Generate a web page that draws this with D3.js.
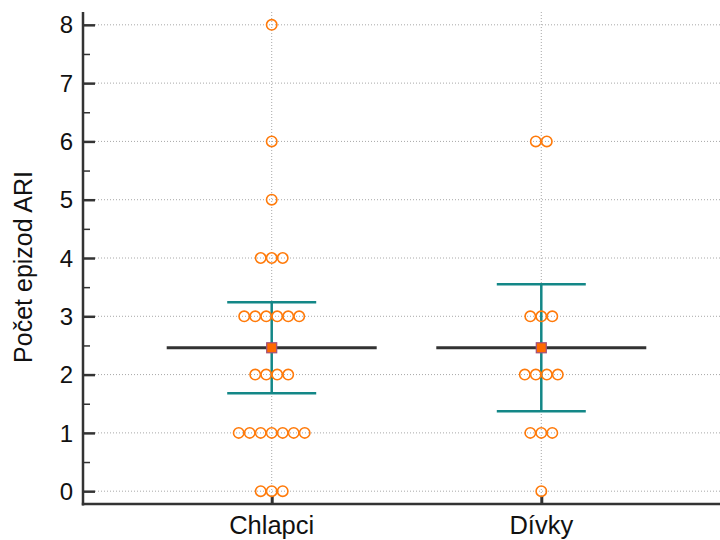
<!DOCTYPE html>
<html>
<head>
<meta charset="utf-8">
<script src="https://cdn.jsdelivr.net/npm/d3@7"></script>
<style>
  html, body { margin: 0; padding: 0; background: #fff; }
  svg text { font-family: "Liberation Sans", Arial, sans-serif; fill: #111; }
</style>
</head>
<body>
<svg id="chart" width="720" height="540"></svg>
<script>
// Episode counts per child, by group
const categories = ["Chlapci", "Dívky"];
const chlapci = [0,0,0,1,1,1,1,1,1,1,2,2,2,2,3,3,3,3,3,3,4,4,4,5,6,8];
const divky   = [0,1,1,1,2,2,2,2,3,3,3,6,6];
const groups  = [chlapci, divky];

// Group mean and 95% confidence interval
const means  = [2.46, 2.46];
const ciLow  = [1.68, 1.37];
const ciHigh = [3.24, 3.55];

const yTicks = [0, 1, 2, 3, 4, 5, 6, 7, 8];
const yMinor = [0.5, 1.5, 2.5, 3.5, 4.5, 5.5, 6.5, 7.5];
const yLabel = "Počet epizod ARI";

const svg = d3.select("#chart");
const plotLeft = 83, plotRight = 730, plotTop = 12, plotBottom = 504;

const x = d3.scalePoint().domain(categories).range([plotLeft, plotRight]).padding(0.7);
const y = d3.scaleLinear().domain([-0.22, 8.22]).range([plotBottom, plotTop]);

const orange = "#ff7a0a", teal = "#138787", dark = "#333";
const grid = svg.append("g");

// dotted grid
grid.selectAll("line.h").data(yTicks).join("line")
  .attr("x1", plotLeft + 12).attr("x2", 720)
  .attr("y1", d => y(d)).attr("y2", d => y(d))
  .attr("stroke", "#a8a8a8").attr("stroke-width", 1).attr("stroke-dasharray", "1,2");
grid.selectAll("line.v").data(categories).join("line")
  .attr("x1", d => x(d)).attr("x2", d => x(d))
  .attr("y1", plotTop).attr("y2", plotBottom - 8)
  .attr("stroke", "#a8a8a8").attr("stroke-width", 1).attr("stroke-dasharray", "1,2");

// axes
const yAxis = svg.append("g").attr("transform", `translate(${plotLeft},0)`)
  .call(d3.axisRight(y).tickValues(yTicks).tickSize(12).tickFormat(""));
yAxis.select(".domain").remove();
yAxis.selectAll(".tick line").attr("stroke", dark).attr("stroke-width", 2.5);
svg.append("g").attr("transform", `translate(${plotLeft},0)`)
  .call(d3.axisRight(y).tickValues(yMinor).tickSize(7).tickFormat(""))
  .call(g => g.select(".domain").remove())
  .selectAll(".tick line").attr("stroke", dark).attr("stroke-width", 1.5);

svg.selectAll("text.ytick").data(yTicks).join("text")
  .attr("class", "ytick")
  .attr("x", plotLeft - 10).attr("y", d => y(d)).attr("dy", "0.36em")
  .attr("text-anchor", "end").attr("font-size", 24).text(d => d);

const xAxis = svg.append("g").attr("transform", `translate(0,${plotBottom})`)
  .call(d3.axisTop(x).tickSize(8).tickFormat(""));
xAxis.select(".domain").remove();
xAxis.selectAll(".tick line").attr("stroke", dark).attr("stroke-width", 3);

svg.selectAll("text.xtick").data(categories).join("text")
  .attr("class", "xtick")
  .attr("x", d => x(d)).attr("y", 534)
  .attr("text-anchor", "middle").attr("font-size", 25.5).text(d => d);

svg.append("line").attr("x1", plotLeft).attr("x2", plotLeft).attr("y1", plotTop).attr("y2", plotBottom + 1.5)
  .attr("stroke", dark).attr("stroke-width", 2.5);
svg.append("line").attr("x1", plotLeft - 1.2).attr("x2", 720).attr("y1", plotBottom).attr("y2", plotBottom)
  .attr("stroke", dark).attr("stroke-width", 2.5);

svg.append("text")
  .attr("transform", `translate(32,267) rotate(-90)`)
  .attr("text-anchor", "middle").attr("font-size", 25).text(yLabel);

// individual observations, spread side by side at each value
const spacing = 11;
const dots = [];
groups.forEach((vals, gi) => {
  d3.rollups(vals, v => v.length, v => v).forEach(([val, n]) => {
    for (let i = 0; i < n; i++) {
      dots.push({ cat: categories[gi], val, off: (i - (n - 1) / 2) * spacing });
    }
  });
});

// mean lines
svg.selectAll("line.mean").data(categories).join("line")
  .attr("x1", d => x(d) - 105).attr("x2", d => x(d) + 105)
  .attr("y1", (d, i) => y(means[i])).attr("y2", (d, i) => y(means[i]))
  .attr("stroke", dark).attr("stroke-width", 3);

// confidence interval bars
const ci = svg.append("g");
categories.forEach((c, i) => {
  ci.append("line").attr("x1", x(c)).attr("x2", x(c))
    .attr("y1", y(ciLow[i])).attr("y2", y(ciHigh[i]))
    .attr("stroke", teal).attr("stroke-width", 2.5);
  [ciLow[i], ciHigh[i]].forEach(v => {
    ci.append("line").attr("x1", x(c) - 44.5).attr("x2", x(c) + 44.5)
      .attr("y1", y(v)).attr("y2", y(v))
      .attr("stroke", teal).attr("stroke-width", 2.5);
  });
});

svg.selectAll("circle.obs").data(dots).join("circle")
  .attr("cx", d => x(d.cat) + d.off).attr("cy", d => y(d.val)).attr("r", 5.2)
  .attr("fill", "#fff").attr("fill-opacity", 0).attr("stroke", orange).attr("stroke-width", 1.6);

// mean markers
svg.selectAll("rect.mean").data(categories).join("rect")
  .attr("x", d => x(d) - 5).attr("y", (d, i) => y(means[i]) - 5)
  .attr("width", 10).attr("height", 10)
  .attr("fill", "#ff6a00").attr("stroke", "#a0507a").attr("stroke-width", 1.2);
</script>
</body>
</html>
